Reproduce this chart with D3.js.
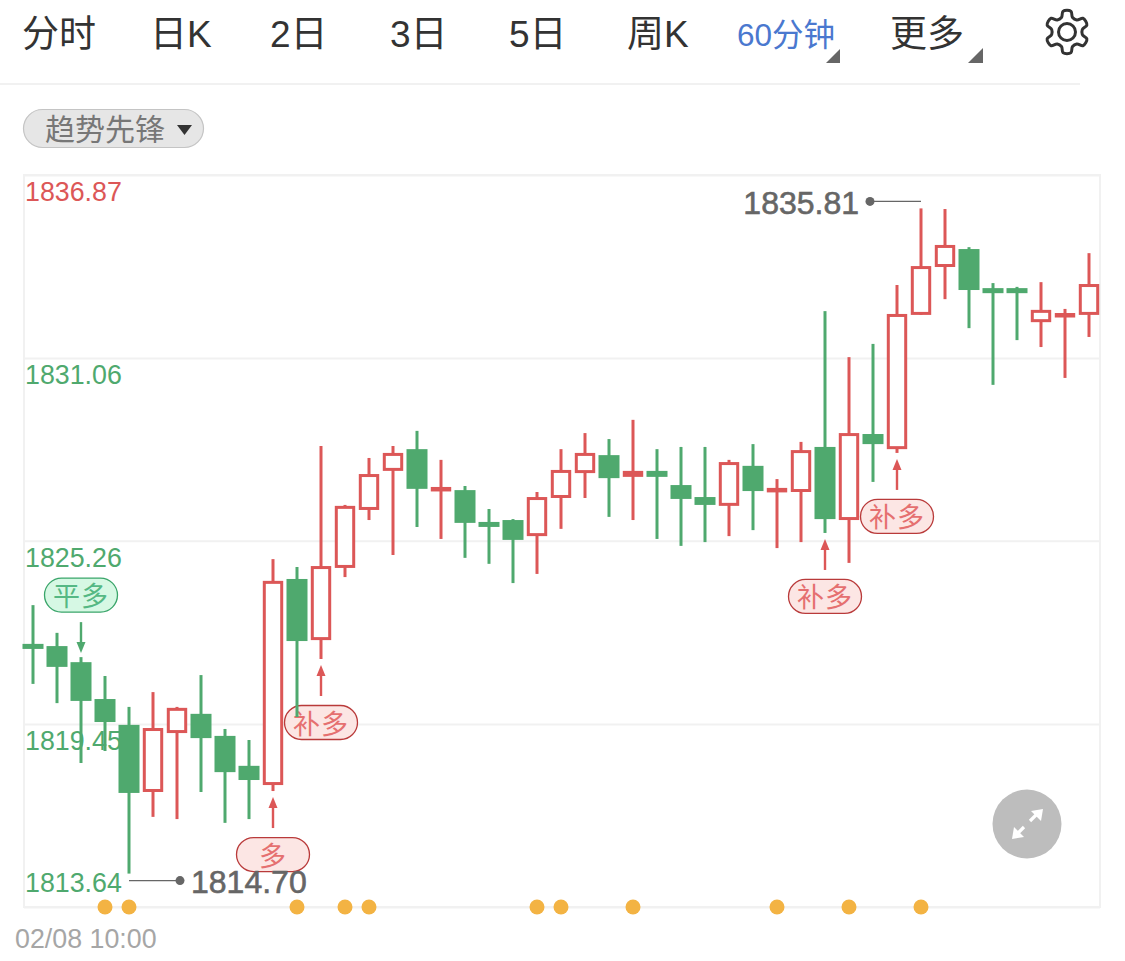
<!DOCTYPE html>
<html><head><meta charset="utf-8">
<style>html,body{margin:0;padding:0;background:#fff;overflow:hidden}svg{display:block}text{font-family:"Liberation Sans","Noto Sans CJK SC",sans-serif}</style>
<script src="https://cdn.jsdelivr.net/npm/d3@7/dist/d3.min.js"></script>
</head><body><svg id="c" width="1125" height="961"></svg>
<script>
const tabs = ["分时","日K","2日","3日","5日","周K","60分钟","更多"];
const tabX = [22,150,270,390,509,627,737,890];
const axisTicks = [1836.87,1831.06,1825.26,1819.45,1813.64];
const opens  = [1821.99,1821.92,1821.41,1820.24,1819.42,1817.29,1819.16,1819.77,1819.07,1818.12,1817.51,1824.05,1822.11,1824.40,1826.24,1827.48,1828.17,1826.91,1826.87,1825.86,1825.92,1825.41,1826.62,1827.41,1827.98,1827.29,1827.48,1827.03,1826.65,1826.37,1827.64,1826.84,1826.81,1828.24,1825.92,1828.65,1828.17,1832.43,1833.95,1834.52,1833.28,1833.28,1832.20,1832.36,1832.43];
const closes = [1821.83,1821.26,1820.18,1819.51,1817.26,1819.32,1819.96,1819.00,1817.92,1817.67,1823.99,1822.08,1824.46,1826.37,1827.38,1828.05,1826.91,1826.97,1825.83,1825.73,1825.29,1826.65,1827.51,1828.05,1827.25,1827.48,1827.29,1826.59,1826.40,1827.76,1826.84,1826.94,1828.14,1825.95,1828.68,1828.33,1832.46,1833.98,1834.65,1833.22,1833.12,1833.12,1832.59,1832.49,1833.41];
const highs  = [1823.22,1822.34,1821.57,1820.97,1819.99,1820.46,1819.99,1821.00,1819.29,1818.94,1824.68,1824.43,1828.27,1826.40,1827.89,1828.27,1828.75,1827.83,1827.00,1826.27,1825.95,1826.81,1828.17,1828.68,1828.49,1829.10,1828.17,1828.24,1828.24,1827.83,1828.33,1827.22,1828.40,1832.55,1831.09,1831.51,1833.38,1835.81,1835.79,1834.58,1833.44,1833.32,1833.47,1832.62,1834.39];
const lows   = [1820.72,1820.11,1818.21,1818.59,1814.70,1816.50,1816.43,1817.29,1816.31,1816.43,1817.32,1819.67,1821.51,1824.11,1825.92,1824.81,1825.70,1825.32,1824.72,1824.53,1823.92,1824.21,1825.64,1826.62,1826.02,1825.92,1825.32,1825.10,1825.22,1825.41,1825.60,1825.03,1825.22,1825.51,1824.56,1827.13,1828.05,1832.43,1832.93,1832.01,1830.21,1831.63,1831.41,1830.43,1831.73];
const dotIdx = [3,4,11,13,14,21,22,25,31,34,37];
const sigIdx = [2,10,12,33,36];
const sigText = ["平多","多","补多","补多","补多"];
const sigDir = ["down","up","up","up","up"];
const sigGap = [-4,6,6,6,6];
const maxLabel = "1835.81", minLabel = "1814.70";
const dateLabel = "02/08 10:00";
const indicator = "趋势先锋";

const RED="#dc5757",GREEN="#4fa96e",GRID="#f1f1f1";
const svg=d3.select("#c");
const L=24,R=1100,T=175,B=907;
const y=d3.scaleLinear().domain([1813.64,1836.87]).range([B,T]);
const x=d3.scaleLinear().domain([0,44]).range([33,1089]);

// toolbar
svg.append("g").selectAll("text").data(tabs).join("text")
  .attr("x",(d,i)=>tabX[i]).attr("y",(d,i)=>i===6?46:47)
  .attr("font-size",(d,i)=>i===6?31.5:37)
  .attr("fill",(d,i)=>i===6?"#4a78cf":"#333").text(d=>d);
svg.append("path").attr("d","M826 63L840 49V63Z").attr("fill","#666");
svg.append("path").attr("d","M968 63L983 48V63Z").attr("fill","#666");
// gear
const gearC=[1067,32];
const gear=[];
for(let i=0;i<6;i++){
  const a=(i*60-90)*Math.PI/180;
  [[-21,15.5],[-11,21],[11,21],[21,15.5]].forEach(p=>{
    const ang=a+p[0]*Math.PI/180; gear.push([gearC[0]+p[1]*Math.cos(ang),gearC[1]+p[1]*Math.sin(ang)]);
  });
}
svg.append("path").attr("d",d3.line().curve(d3.curveCatmullRomClosed.alpha(0.9))(gear)).attr("fill","none").attr("stroke","#333").attr("stroke-width",3);
svg.append("circle").attr("cx",gearC[0]).attr("cy",gearC[1]).attr("r",8.5).attr("fill","none").attr("stroke","#333").attr("stroke-width",3);
svg.append("line").attr("x1",0).attr("x2",1080).attr("y1",84).attr("y2",84).attr("stroke",GRID).attr("stroke-width",2);
// indicator pill
svg.append("rect").attr("x",23.5).attr("y",109.5).attr("width",180).attr("height",38).attr("rx",19).attr("fill","#e6e6e6").attr("stroke","#c4c4c4").attr("stroke-width",1.2);
svg.append("text").attr("x",45).attr("y",140).attr("font-size",30).attr("fill","#777").text(indicator);
svg.append("path").attr("d","M177 125H192L184.5 135Z").attr("fill","#333");

// frame + grid
svg.append("rect").attr("x",L).attr("y",T).attr("width",R-L).attr("height",B-T).attr("fill","none").attr("stroke",GRID).attr("stroke-width",2);
const axis=d3.axisRight(y).tickValues(axisTicks).tickSize(R-L).tickFormat(d3.format(".2f"));
const gA=svg.append("g").attr("transform",`translate(${L},0)`).call(axis);
gA.select(".domain").remove();
gA.selectAll(".tick line").attr("stroke",GRID).attr("stroke-width",2);
gA.selectAll(".tick text").attr("x",1).attr("font-size",26.8).attr("text-anchor","start")
  .attr("dy",0)
  .attr("y",d=>d===axisTicks[4]?-16:25.5)
  .attr("fill",d=>d===axisTicks[0]?RED:GREEN);

// signal pills and arrows
const sigG=svg.append("g");
sigIdx.forEach((k,j)=>{
  const up=sigDir[j]==="up", col=up?RED:GREEN, cx=x(k);
  const tip=up? y(lows[k])+sigGap[j] : y(highs[k])+sigGap[j];
  const dirS=up?1:-1;
  sigG.append("line").attr("x1",cx).attr("x2",cx).attr("y1",tip+dirS*6).attr("y2",tip+dirS*31).attr("stroke",col).attr("stroke-width",2.4);
  sigG.append("path").attr("d",`M${cx} ${tip}L${cx-4.5} ${tip+dirS*11}H${cx+4.5}Z`).attr("fill",col);
  const py=up? tip+dirS*40.5 : tip-40-35;
  sigG.append("rect").attr("x",cx-36.5).attr("y",py).attr("width",73).attr("height",34).attr("rx",17)
    .attr("fill",up?"#fce6e4":"#d6f8e4").attr("stroke",up?"#b93a3a":"#3aa56a").attr("stroke-width",1.3);
  sigG.append("text").attr("x",cx).attr("y",py+28).attr("text-anchor","middle").attr("font-size",27)
    .attr("letter-spacing",1).attr("fill",up?"#e57070":"#55b884").text(sigText[j]);
});

// candles
const cg=svg.append("g");
opens.forEach((o,i)=>{
  const c=closes[i],isUp=c>=o,col=isUp?RED:GREEN,cx=x(i);
  const top=y(Math.max(o,c)),bot=y(Math.min(o,c));
  cg.append("line").attr("x1",cx).attr("x2",cx).attr("y1",y(highs[i])).attr("y2",y(lows[i])).attr("stroke",col).attr("stroke-width",3);
  if(isUp){
    cg.append("rect").attr("x",cx-8.7).attr("y",top+1.5).attr("width",17.4).attr("height",Math.max(bot-top-3,1.5))
      .attr("fill","#fff").attr("stroke",col).attr("stroke-width",3);
  }else{
    cg.append("rect").attr("x",cx-10.5).attr("y",top).attr("width",21).attr("height",Math.max(bot-top,5)).attr("fill",col);
  }
});

// extreme labels
const iMax=highs.indexOf(d3.max(highs));
const iMin=lows.indexOf(d3.min(lows));
const yMax=y(highs[iMax])-7,yMin=y(lows[iMin])+7;
const G2="#666";
svg.append("line").attr("x1",x(iMax)-51).attr("x2",x(iMax)).attr("y1",yMax).attr("y2",yMax).attr("stroke",G2).attr("stroke-width",1.3);
svg.append("circle").attr("cx",x(iMax)-51).attr("cy",yMax).attr("r",4.5).attr("fill",G2);
svg.append("text").attr("x",x(iMax)-62).attr("y",yMax+13).attr("text-anchor","end").attr("font-size",32).attr("fill",G2).attr("stroke",G2).attr("stroke-width",.6).text(maxLabel);
svg.append("line").attr("x1",x(iMin)).attr("x2",x(iMin)+51).attr("y1",yMin).attr("y2",yMin).attr("stroke",G2).attr("stroke-width",1.3);
svg.append("circle").attr("cx",x(iMin)+51).attr("cy",yMin).attr("r",4.5).attr("fill",G2);
svg.append("text").attr("x",x(iMin)+62).attr("y",yMin+12).attr("font-size",32).attr("fill",G2).attr("stroke",G2).attr("stroke-width",.6).text(minLabel);

// event dots
svg.append("g").selectAll("circle").data(dotIdx).join("circle").attr("cx",d=>x(d)).attr("cy",B).attr("r",7.5).attr("fill","#f3b343");
svg.append("text").attr("x",15).attr("y",948).attr("font-size",26.8).attr("fill","#a6a6a6").text(dateLabel);

// expand button
svg.append("circle").attr("cx",1027).attr("cy",824).attr("r",34.5).attr("fill","#bdbdbd");
const eb=svg.append("g").attr("stroke","#fff").attr("fill","#fff").attr("stroke-width",3.2);
eb.append("line").attr("x1",1030).attr("y1",821).attr("x2",1037).attr("y2",814);
eb.append("line").attr("x1",1017).attr("y1",834).attr("x2",1024).attr("y2",827);
eb.append("path").attr("d","M1043 809L1041 821L1031 811Z").attr("stroke","none");
eb.append("path").attr("d","M1012 839L1014 827L1024 837Z").attr("stroke","none");
</script></body></html>
